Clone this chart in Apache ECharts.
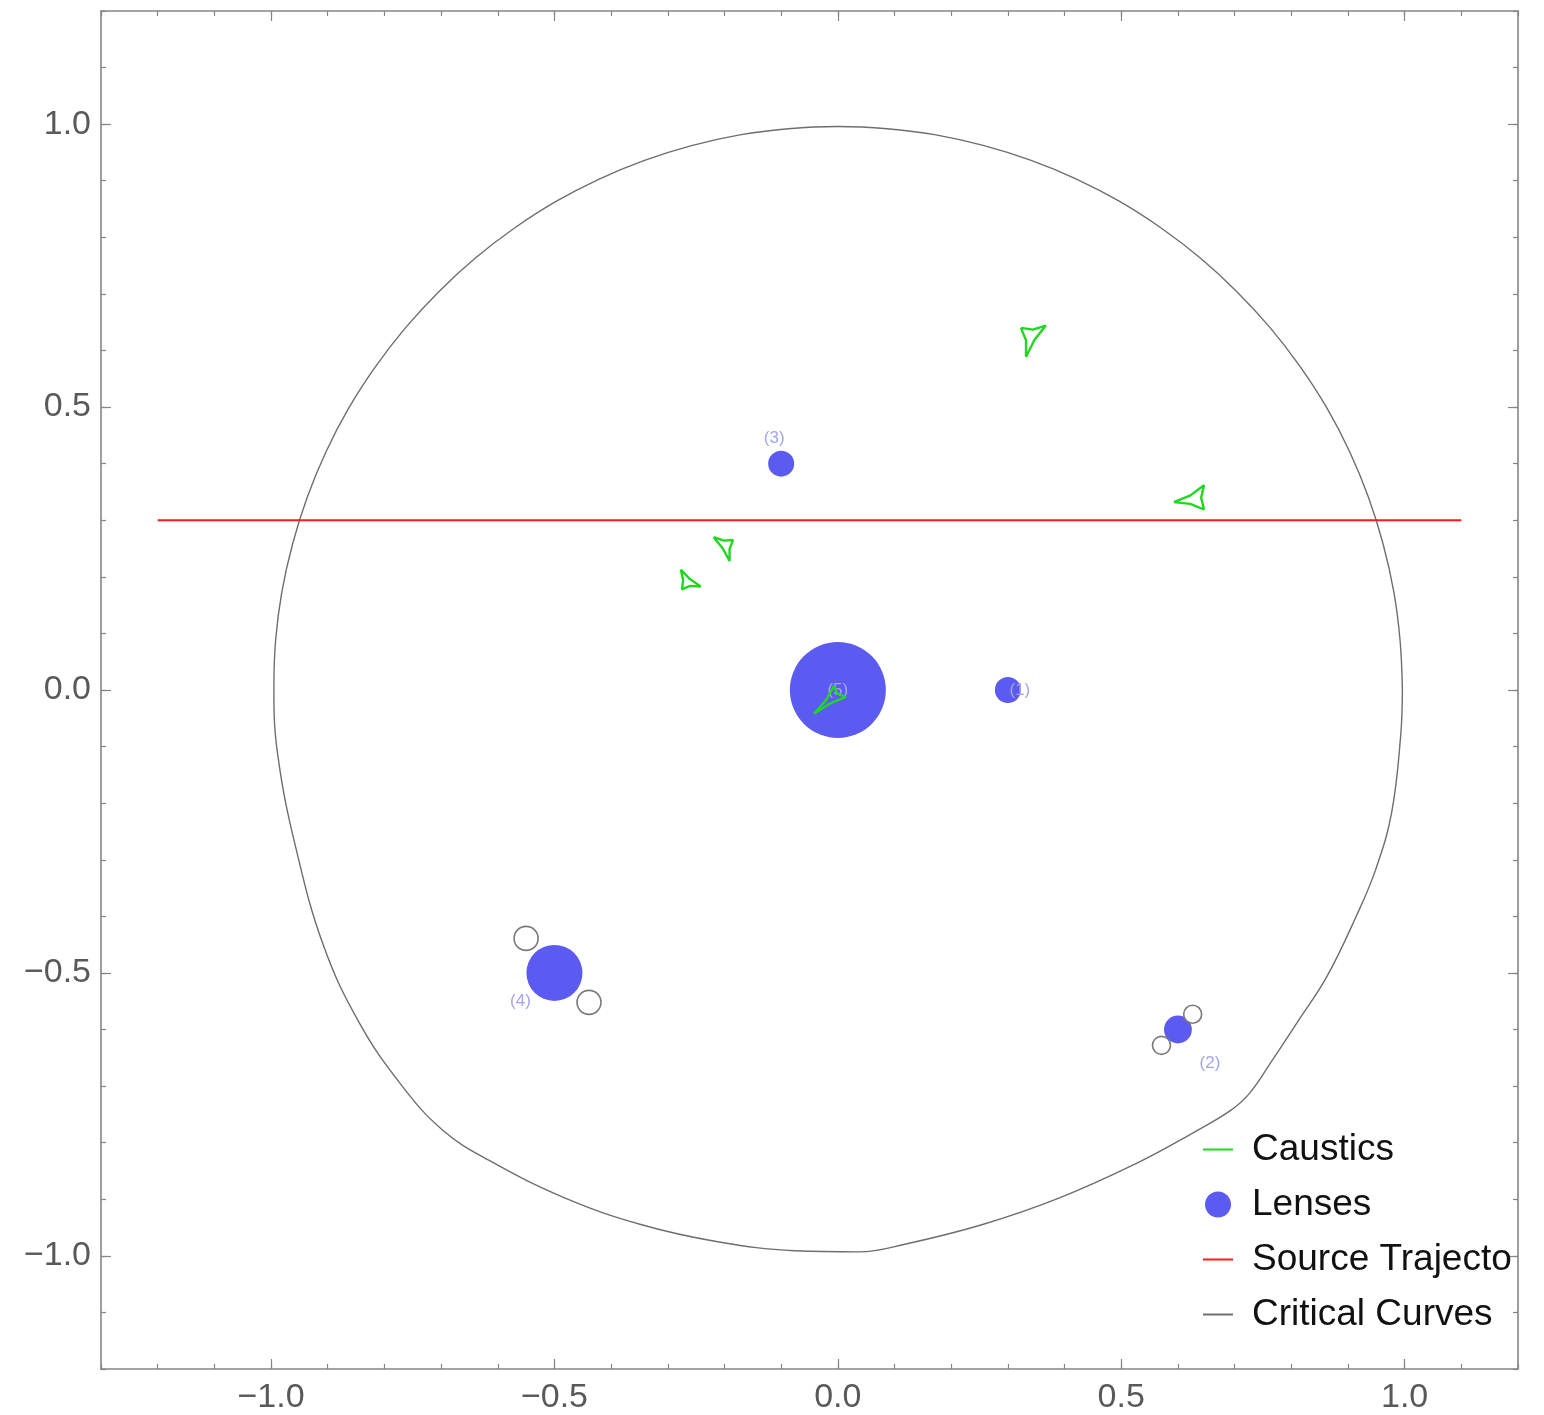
<!DOCTYPE html>
<html>
<head>
<meta charset="utf-8">
<title>Lens configuration</title>
<script src="https://cdn.jsdelivr.net/npm/echarts@6/dist/echarts.min.js"></script>
<style>
  html, body { margin: 0; padding: 0; background: #ffffff; }
  #chart { width: 1544px; height: 1415px; }
</style>
</head>
<body>
<div id="chart"></div>
<script>
// ---- axis ranges and tick values ----
const xRange = [-1.3, 1.2];
const yRange = [-1.2, 1.2];
const minorStep = 0.1;
const xMajorTicks = [-1.0, -0.5, 0.0, 0.5, 1.0];
const yMajorTicks = [-1.0, -0.5, 0.0, 0.5, 1.0];

// ---- point lenses ----
const lensNames = ['(1)', '(2)', '(3)', '(4)', '(5)'];
const lensX = [0.3, 0.6, -0.1, -0.5, 0.0];
const lensY = [0.0, -0.6, 0.4, -0.5, 0.0];
const lensMass = [0.047, 0.054, 0.047, 0.218, 0.64];

// ---- lensed images of the source ----
const imageX = [-0.550, -0.439, 0.626, 0.571];
const imageY = [-0.439, -0.552, -0.573, -0.628];

// ---- source trajectory ----
const trajectoryX = [-1.2, 1.1];
const trajectoryY = [0.3, 0.3];

// ---- critical curve (closed, counter-clockwise from the right) ----
const criticalCurve = [
  [0.996, 0.0], [0.992, 0.087], [0.981, 0.173], [0.962, 0.258], [0.936, 0.341],
  [0.903, 0.421], [0.863, 0.498], [0.816, 0.571], [0.763, 0.640], [0.704, 0.704],
  [0.640, 0.763], [0.571, 0.816], [0.498, 0.863], [0.421, 0.903], [0.341, 0.936],
  [0.258, 0.962], [0.173, 0.981], [0.087, 0.992], [0.0, 0.996], [-0.087, 0.992],
  [-0.173, 0.981], [-0.258, 0.962], [-0.341, 0.936], [-0.421, 0.903], [-0.498, 0.863],
  [-0.571, 0.816], [-0.640, 0.763], [-0.704, 0.704], [-0.763, 0.640], [-0.816, 0.571],
  [-0.863, 0.498], [-0.903, 0.421], [-0.936, 0.341], [-0.962, 0.258], [-0.981, 0.173],
  [-0.992, 0.087], [-0.995, 0.0], [-0.988, -0.116], [-0.956, -0.280], [-0.907, -0.453],
  [-0.845, -0.587], [-0.771, -0.697], [-0.697, -0.778], [-0.616, -0.831], [-0.481, -0.898],
  [-0.346, -0.945], [-0.212, -0.975], [-0.076, -0.991], [0.037, -0.993], [0.120, -0.979],
  [0.254, -0.945], [0.390, -0.898], [0.524, -0.838], [0.626, -0.783], [0.693, -0.743],
  [0.727, -0.712], [0.766, -0.655], [0.812, -0.585], [0.862, -0.508], [0.915, -0.399],
  [0.949, -0.317], [0.977, -0.217], [0.993, -0.081], [0.996, 0.0]
];

// ---- caustics (closed three-cusp curves) ----
const caustic1 = [[0.323, 0.640], [0.344, 0.637], [0.367, 0.644], [0.347, 0.619], [0.332, 0.589], [0.332, 0.618], [0.323, 0.640]];
const caustic2 = [[0.593, 0.332], [0.622, 0.344], [0.646, 0.362], [0.641, 0.340], [0.646, 0.319], [0.622, 0.329], [0.593, 0.332]];
const caustic3 = [[-0.219, 0.270], [-0.201, 0.264], [-0.185, 0.265], [-0.191, 0.249], [-0.191, 0.228], [-0.203, 0.250], [-0.219, 0.270]];
const caustic4 = [[-0.277, 0.213], [-0.261, 0.196], [-0.242, 0.183], [-0.261, 0.184], [-0.275, 0.178], [-0.273, 0.194], [-0.277, 0.213]];
const caustic5 = [[-0.042, -0.042], [-0.020, -0.017], [-0.007, 0.007], [-0.001, -0.007], [0.014, -0.012], [-0.014, -0.024], [-0.042, -0.042]];
const caustics = [caustic1, caustic2, caustic3, caustic4, caustic5];

// ---- styling ----
const frameColor = '#858585';
const tickFont = 'Liberation Sans, Arial, sans-serif';
const lensColor = '#5b5bf2';
const causticColor = '#1fd81f';
const trajectoryColor = '#ff1a1a';
const curveColor = '#6e6e6e';
const lensLabelColor = '#a4a4ec';
const lensLabelOffset = [[12, 0], [32, 34], [-7, -25], [-34, 28], [0, 0]];
const imageSizes = [24, 24, 18, 18];
const lineIcon = 'path://M0,0L30,0L30,2L0,2Z';

function fmtTick(v) {
  const s = Math.abs(v).toFixed(1);
  return v < -1e-9 ? '\u2212' + s : s;
}

// one side of the plot frame: minor ticks + axis line, or major ticks only
function frameAxis(position, range, isX, major, labels) {
  const axis = {
    type: 'value',
    position: position,
    min: range[0],
    max: range[1],
    splitLine: { show: false },
    axisLine: { show: !major, onZero: false, lineStyle: { color: frameColor, width: 1.6 } },
    axisTick: major
      ? { show: true, inside: true, length: 10, customValues: isX ? xMajorTicks : yMajorTicks,
          lineStyle: { color: frameColor, width: 1.2 } }
      : { show: true, inside: true, length: 5, lineStyle: { color: frameColor, width: 1.2 } },
    axisLabel: labels
      ? { show: true, customValues: isX ? xMajorTicks : yMajorTicks, formatter: fmtTick,
          fontSize: 34, color: '#595959', fontFamily: tickFont, margin: isX ? 12 : 10 }
      : { show: false }
  };
  if (!major) axis.interval = minorStep;
  return axis;
}

const chart = echarts.init(document.getElementById('chart'), null, { renderer: 'canvas' });

const series = [];

series.push({
  name: 'Critical Curves',
  type: 'line',
  data: criticalCurve,
  symbol: 'none',
  smooth: 0.4,
  lineStyle: { color: curveColor, width: 1.4 },
  itemStyle: { color: curveColor },
  z: 2
});

series.push({
  name: 'Source Trajectory',
  type: 'line',
  data: trajectoryX.map((x, i) => [x, trajectoryY[i]]),
  symbol: 'none',
  lineStyle: { color: trajectoryColor, width: 2.2 },
  itemStyle: { color: trajectoryColor },
  z: 3
});

series.push({
  name: 'Lenses',
  type: 'scatter',
  data: lensX.map((x, i) => ({
    value: [x, lensY[i]],
    name: lensNames[i],
    symbolSize: 120 * Math.sqrt(lensMass[i]),
    label: { offset: lensLabelOffset[i] }
  })),
  itemStyle: { color: lensColor, opacity: 1 },
  label: {
    show: true,
    position: 'inside',
    formatter: p => p.name,
    color: lensLabelColor,
    fontSize: 17,
    fontFamily: tickFont
  },
  z: 4
});

series.push({
  name: 'Images',
  type: 'scatter',
  data: imageX.map((x, i) => ({ value: [x, imageY[i]], symbolSize: imageSizes[i] })),
  itemStyle: { color: '#ffffff', borderColor: '#7a7a7a', borderWidth: 1.6, opacity: 1 },
  z: 5
});

caustics.forEach(c => {
  series.push({
    name: 'Caustics',
    type: 'line',
    data: c,
    symbol: 'none',
    lineStyle: { color: causticColor, width: 2.4 },
    itemStyle: { color: causticColor },
    z: 6
  });
});

chart.setOption({
  animation: false,
  backgroundColor: '#ffffff',
  grid: { left: 101, top: 11, width: 1417, height: 1361, containLabel: false },
  xAxis: [
    frameAxis('bottom', xRange, true, false, true),
    frameAxis('bottom', xRange, true, true, false),
    frameAxis('top', xRange, true, false, false),
    frameAxis('top', xRange, true, true, false)
  ],
  yAxis: [
    frameAxis('left', yRange, false, false, true),
    frameAxis('left', yRange, false, true, false),
    frameAxis('right', yRange, false, false, false),
    frameAxis('right', yRange, false, true, false)
  ],
  legend: {
    orient: 'vertical',
    left: 1203,
    top: 1131,
    padding: 0,
    itemWidth: 30,
    itemHeight: 26,
    itemGap: 18,
    selectedMode: false,
    data: [
      { name: 'Caustics', icon: lineIcon },
      { name: 'Lenses', icon: 'circle' },
      { name: 'Source Trajectory', icon: lineIcon },
      { name: 'Critical Curves', icon: lineIcon }
    ],
    textStyle: {
      fontSize: 37,
      color: '#111111',
      fontFamily: tickFont,
      width: 266,
      overflow: 'truncate',
      ellipsis: '',
      padding: [0, 0, 0, 14]
    }
  },
  series: series
});
</script>
</body>
</html>
